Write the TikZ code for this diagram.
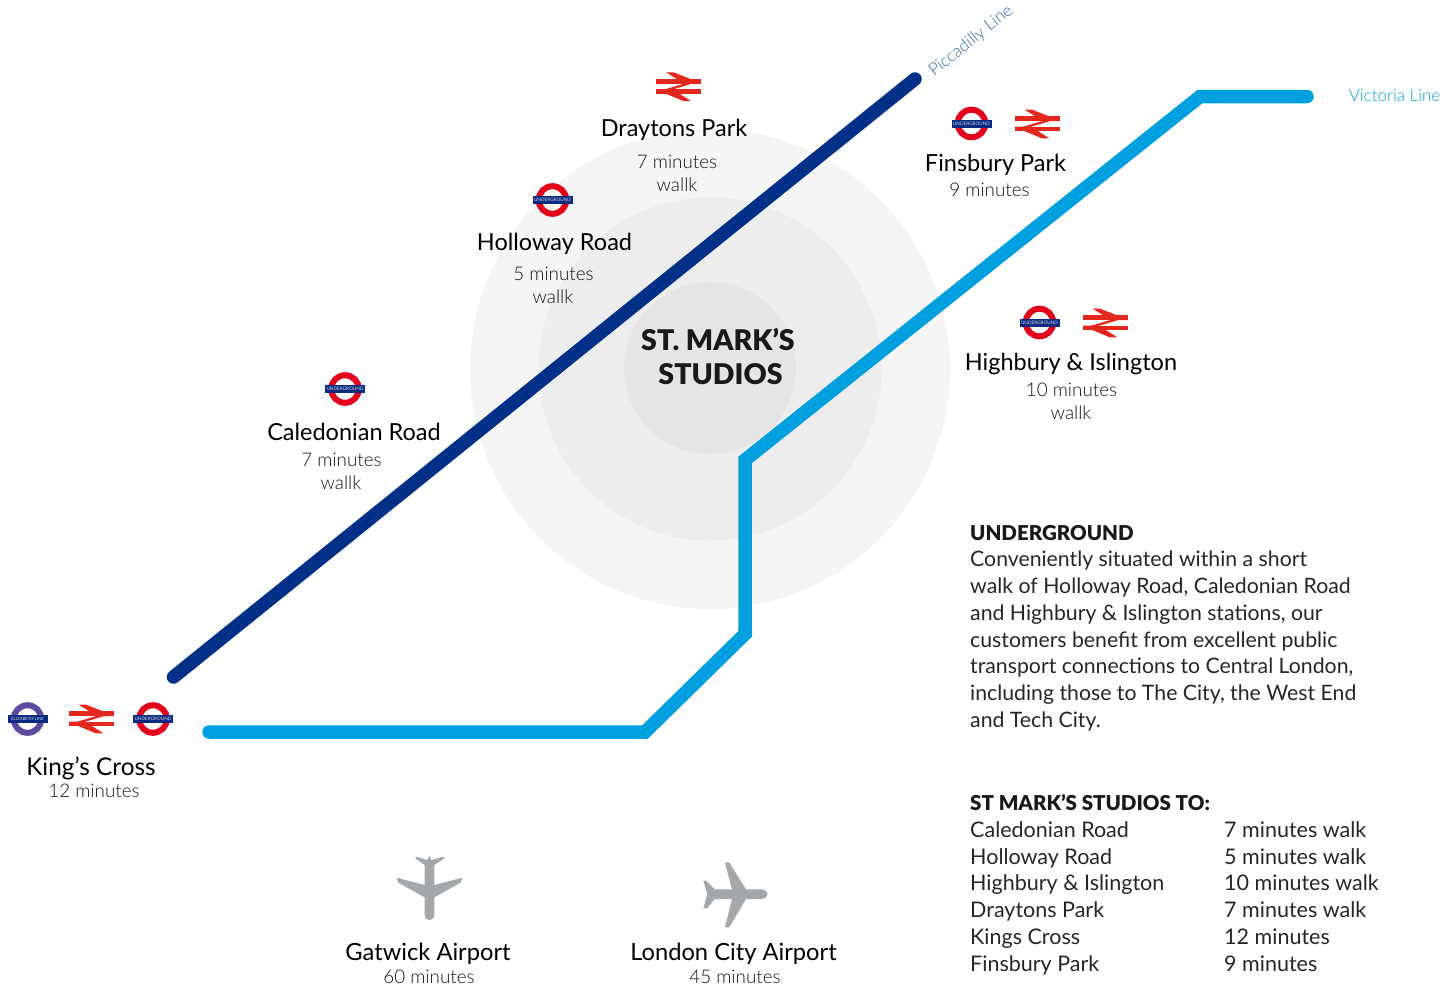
\documentclass[tikz,border=0pt]{standalone}
\usepackage{fontspec}
\setmainfont{Lato}
\newfontfamily\heavyfont{Lato Black}
\newfontfamily\lightfont{Lato Light}
\definecolor{picc}{HTML}{003087}
\definecolor{vict}{HTML}{009FDF}
\definecolor{ringred}{HTML}{E3001B}
\definecolor{barblue}{HTML}{0A2A82}
\definecolor{elizpurple}{HTML}{5B4A9E}
\definecolor{brred}{HTML}{E5281E}
\definecolor{planegrey}{HTML}{A5A8AA}
\definecolor{bodygrey}{HTML}{111111}
\definecolor{picclabel}{HTML}{2A6CA8}
\newcommand{\fs}[1]{\fontsize{#1}{#1}\selectfont}
\tikzset{
  line/.style={line width=13.5pt,line cap=round,line join=miter},
  stationname/.style={font=\fs{23.5},text=black,inner sep=0pt,anchor=center},
  stationtime/.style={font=\lightfont\fs{18.8},text=bodygrey,inner sep=0pt,anchor=center},
  airportname/.style={font=\fs{23.7},text=black,inner sep=0pt,anchor=center},
  para/.style={font=\fs{21.25},text=black!85,inner sep=0pt,anchor=base west},
  tablecell/.style={font=\fs{21.5},text=black!85,inner sep=0pt,anchor=base west},
  parahead/.style={font=\heavyfont\fs{20.5},text=black!90,inner sep=0pt,anchor=base west},
  centretitle/.style={font=\heavyfont\fs{28.5},text=black!90,inner sep=0pt,anchor=center},
  pics/roundel/.style n args={3}{code={
    \draw[#1,line width=6pt] (0,0) circle (13.8pt);
    \fill[#2] (-20,-4) rectangle (20,4);
    \node[inner sep=0pt,text=white!80!#2,font=\fs{#3}] at (0,0) {\ifdim#3pt<4.6pt ELIZABETH LINE\else UNDERGROUND\fi};
  }},
  pics/brlogo/.style={code={
    \fill[brred] (-22.5,-7.7) rectangle (22.5,-3.0);
    \fill[brred] (-22.5,2.6) rectangle (22.5,7.3);
    \fill[brred] (-12.5,-14.4) -- (-5,-14.4) -- (12,-7.7) -- (22.5,-3) -- (6,-3) -- cycle;
    \fill[brred] (6,-3.2) -- (14,-3.2) -- (-6,2.8) -- (-14,2.8) -- cycle;
    \fill[brred] (12.5,14.4) -- (5,14.4) -- (-12,7.3) -- (-22.5,2.6) -- (-6,2.6) -- cycle;
  }}
}
\begin{document}
\begin{tikzpicture}[x=1pt,y=-1pt]
\useasboundingbox (0,0) rectangle (1454,989);
% zones
\fill[fill=black!4] (710,369) circle (240pt);
\fill[fill=black!7] (710,369) circle (171.5pt);
\fill[fill=black!10] (710,368) circle (86pt);
% line end points
\coordinate (picA) at (173.5,677);
\coordinate (picB) at (915,79);
\coordinate (vicA) at (209,732);
\coordinate (vicB) at (645,732);
\coordinate (vicC) at (745,634);
\coordinate (vicD) at (745,460);
\coordinate (vicE) at (1200,96.5);
\coordinate (vicF) at (1307,96.5);
\draw[line,color=picc] (picA) -- (picB);
\draw[line,color=vict] (vicA) -- (vicB) -- (vicC) -- (vicD) -- (vicE) -- (vicF);
% line labels
\node[inner sep=0pt,rotate=39,text=picclabel,font=\lightfont\fs{17}] (piccLabel) at (971,41) {Piccadilly Line};
\node[inner sep=0pt,text=vict,font=\lightfont\fs{17}] (victLabel) at (1394.5,95.5) {Victoria Line};
% centre
\node[centretitle] (title1) at (718,339.5) {ST. MARK’S};
\node[centretitle] (title2) at (720.5,374) {STUDIOS};
% icons
\pic at (678.5,86.7) {brlogo};
\pic at (552.5,200) {roundel={ringred}{barblue}{4.7}};
\pic at (345,389) {roundel={ringred}{barblue}{4.7}};
\pic at (971.5,123.5) {roundel={ringred}{barblue}{4.7}};
\pic at (1037,124) {brlogo};
\pic at (1039.5,322.5) {roundel={ringred}{barblue}{4.7}};
\pic at (1105,323) {brlogo};
\pic at (27.5,719) {roundel={elizpurple}{barblue}{4.3}};
\pic at (91,719) {brlogo};
\pic at (153,719) {roundel={ringred}{barblue}{4.7}};
% stations
\node[stationname] (dp) at (674,130) {Draytons Park};
\node[stationtime] (dp1) at (677,162) {7 minutes};
\node[stationtime] (dp2) at (677,185) {wallk};
\node[stationname] (hr) at (554.5,244) {Holloway Road};
\node[stationtime] (hr1) at (553.5,274) {5 minutes};
\node[stationtime] (hr2) at (553,297) {wallk};
\node[stationname] (cr) at (354,431.5) {Caledonian Road};
\node[stationtime] (cr1) at (341.5,460) {7 minutes};
\node[stationtime] (cr2) at (341,483) {wallk};
\node[stationname] (fp) at (995.5,164.5) {Finsbury Park};
\node[stationtime] (fp1) at (989.5,190) {9 minutes};
\node[stationname] (hi) at (1071,364) {Highbury \& Islington};
\node[stationtime] (hi1) at (1071.5,390) {10 minutes};
\node[stationtime] (hi2) at (1071,413) {wallk};
\node[stationname,font=\fs{24.4}] (kc) at (91,768) {King’s Cross};
\node[stationtime] (kc1) at (94,791) {12 minutes};
% airports
\node[airportname] (ga) at (428,954) {Gatwick Airport};
\node[stationtime] (ga1) at (429,977) {60 minutes};
\node[airportname] (lc) at (733.5,954) {London City Airport};
\node[stationtime] (lc1) at (735,977) {45 minutes};
% planes
\begin{scope}[shift={(370,840)},x=0.3333pt,y=-0.3333pt]
\fill[planegrey] (137,50) -- (172,60) -- (178,47) -- (184,60) -- (220,50) -- (222,56) -- (193,75)
 -- (193,135) -- (277,113) -- (272,128) -- (193,172) -- (193,225) .. controls (192,236) and (185,240) .. (178,240)
 .. controls (171,240) and (165,236) .. (164,225) -- (164,172) -- (85,128) -- (80,113) -- (164,135)
 -- (164,75) -- (137,56) -- cycle;
\fill[planegrey] (1065,67) -- (1078,67) -- (1128,148) -- (1175,148) .. controls (1186,150) and (1193,155) .. (1193,162)
 .. controls (1193,170) and (1186,175) .. (1175,177) -- (1128,177) -- (1078,262) -- (1065,262) -- (1086,177)
 -- (1034,177) -- (1012,205) -- (1000,205) -- (1012,162) -- (1000,122) -- (1008,122) -- (1034,148) -- (1086,148) -- cycle;
\end{scope}
% paragraph
\node[parahead] (ughead) at (970,540) {UNDERGROUND};
\node[para] (ug1) at (970,566.5) {Conveniently situated within a short};
\node[para] (ug2) at (970,593) {walk of Holloway Road, Caledonian Road};
\node[para] (ug3) at (970,620) {and Highbury \& Islington stations, our};
\node[para] (ug4) at (970,647) {customers benefit from excellent public};
\node[para] (ug5) at (970,673.5) {transport connections to Central London,};
\node[para] (ug6) at (970,700) {including those to The City, the West End};
\node[para] (ug7) at (970,727) {and Tech City.};
% table
\node[parahead] (thead) at (970,810) {ST MARK’S STUDIOS TO:};
\node[tablecell] (t1a) at (970,837) {Caledonian Road};
\node[tablecell] (t1b) at (1224,837) {7 minutes walk};
\node[tablecell] (t2a) at (970,864) {Holloway Road};
\node[tablecell] (t2b) at (1224,864) {5 minutes walk};
\node[tablecell] (t3a) at (970,890.5) {Highbury \& Islington};
\node[tablecell] (t3b) at (1224,890.5) {10 minutes walk};
\node[tablecell] (t4a) at (970,917) {Draytons Park};
\node[tablecell] (t4b) at (1224,917) {7 minutes walk};
\node[tablecell] (t5a) at (970,944) {Kings Cross};
\node[tablecell] (t5b) at (1224,944) {12 minutes};
\node[tablecell] (t6a) at (970,971) {Finsbury Park};
\node[tablecell] (t6b) at (1224,971) {9 minutes};
\end{tikzpicture}
\end{document}
